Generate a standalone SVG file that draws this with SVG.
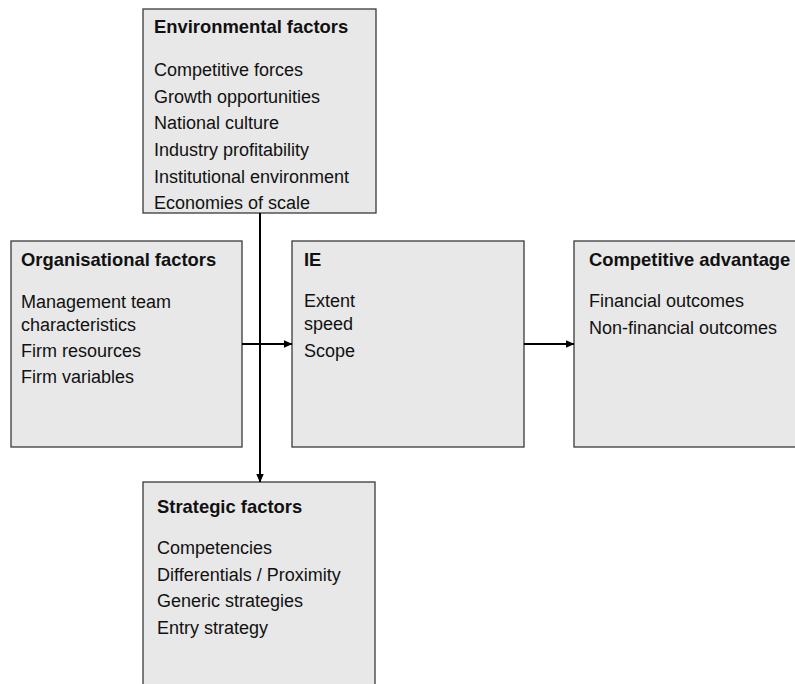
<svg xmlns="http://www.w3.org/2000/svg" width="795" height="684" viewBox="0 0 795 684">
<style>
.box{fill:#e8e8e8;stroke:#3a3a3a;stroke-width:1.3}
.t{font-family:"Liberation Sans",Arial,sans-serif;font-size:18px;fill:#111}
.b{font-weight:bold;font-size:18.4px}
.c{stroke:#000;stroke-width:2;fill:none}
</style>
<defs>
<marker id="ah" markerWidth="9" markerHeight="8" refX="8.5" refY="4" orient="auto" markerUnits="userSpaceOnUse">
<path d="M0,0 L9,4 L0,8 Z" fill="#000"/>
</marker>
</defs>
<rect width="795" height="684" fill="#fff"/>
<g id="env">
<rect class="box" x="143" y="9" width="233" height="204"/>
<text class="t b" x="154" y="33">Environmental factors</text>
<text class="t" x="154" y="76">Competitive forces</text>
<text class="t" x="154" y="102.7">Growth opportunities</text>
<text class="t" x="154" y="129.3">National culture</text>
<text class="t" x="154" y="156">Industry profitability</text>
<text class="t" x="154" y="182.7">Institutional environment</text>
<text class="t" x="154" y="209.3">Economies of scale</text>
</g>
<g id="org">
<rect class="box" x="11" y="241" width="231" height="206"/>
<text class="t b" x="21" y="266">Organisational factors</text>
<text class="t" x="21" y="308">Management team</text>
<text class="t" x="21" y="331">characteristics</text>
<text class="t" x="21" y="357">Firm resources</text>
<text class="t" x="21" y="383">Firm variables</text>
</g>
<g id="ie">
<rect class="box" x="292" y="241" width="232" height="206"/>
<text class="t b" x="304" y="266">IE</text>
<text class="t" x="304" y="307">Extent</text>
<text class="t" x="304" y="330">speed</text>
<text class="t" x="304" y="357">Scope</text>
</g>
<g id="comp">
<rect class="box" x="574" y="241" width="230" height="206"/>
<text class="t b" x="589" y="266">Competitive advantage</text>
<text class="t" x="589" y="307">Financial outcomes</text>
<text class="t" x="589" y="334">Non-financial outcomes</text>
</g>
<g id="strat">
<rect class="box" x="143" y="482" width="232" height="220"/>
<text class="t b" x="157" y="513">Strategic factors</text>
<text class="t" x="157" y="554">Competencies</text>
<text class="t" x="157" y="581">Differentials / Proximity</text>
<text class="t" x="157" y="607">Generic strategies</text>
<text class="t" x="157" y="634">Entry strategy</text>
</g>
<g id="connectors">
<line class="c" x1="260" y1="213" x2="260" y2="482" marker-end="url(#ah)"/>
<line class="c" x1="242" y1="344" x2="292" y2="344" marker-end="url(#ah)"/>
<line class="c" x1="524" y1="344" x2="574" y2="344" marker-end="url(#ah)"/>
</g>
</svg>
